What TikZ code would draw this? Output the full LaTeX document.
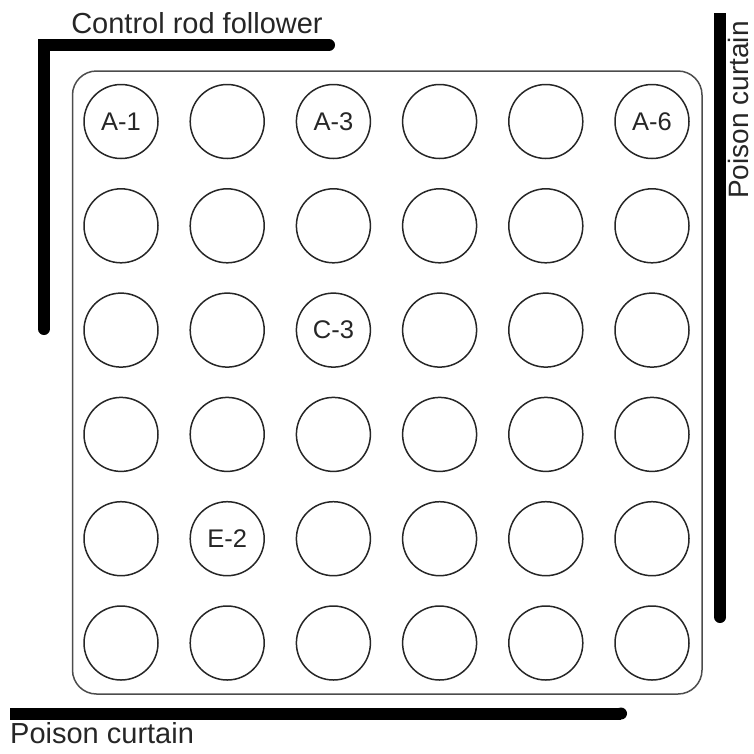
\documentclass[tikz,border=0pt]{standalone}
\usepackage{fontspec}
\setmainfont{Liberation Sans}
\begin{document}
\begin{tikzpicture}[x=1pt,y=-1pt,
  fuel/.style={draw=black!85,line width=1.5pt,circle,minimum size=74pt,inner sep=0pt},
  fuellbl/.style={font=\fontsize{25.5}{27}\selectfont,text=black!85,inner sep=0pt},
  bar/.style={line width=12pt,black},
  lbl/.style={font=\fontsize{29}{31}\selectfont,text=black!85,inner sep=0pt}]
\useasboundingbox (0,0) rectangle (754,753);
% core box
\draw[line width=1.5pt,draw=black!70,rounded corners=24pt] (72.5,71) rectangle (702,694);
% fuel positions
\foreach \r in {1,...,6}{
  \foreach \c in {1,...,6}{
    \node[fuel] (c\r\c) at ({121+106.2*(\c-1)},{121.5+104.3*(\r-1)}) {};
  }
}
\node[fuellbl] (l11) at (c11) {A-1};
\node[fuellbl] (l13) at (c13) {A-3};
\node[fuellbl] (l16) at (c16) {A-6};
\node[fuellbl] (l33) at (c33) {C-3};
\node[fuellbl] (l52) at (c52) {E-2};
% control rod follower
\coordinate (crA) at (329,45);
\coordinate (crB) at (44,45);
\coordinate (crC) at (44,329);
\draw[bar,line cap=round,line join=miter] (crA) -- (crB) -- (crC);
\node[lbl,anchor=base] (crl) at (197,33) {Control rod follower};
% right poison curtain
\coordinate (rpA) at (720,13);
\coordinate (rpB) at (720,617);
\draw[bar,line cap=butt] (rpA) -- (rpB);
\fill (rpB) circle (6pt);
\node[lbl,font=\fontsize{28}{30}\selectfont,rotate=90,anchor=base west] (rpl) at (748,199) {Poison curtain};
% bottom poison curtain
\coordinate (bpA) at (10,713.5);
\coordinate (bpB) at (621,713.5);
\draw[bar,line cap=butt] (bpA) -- (bpB);
\fill (bpB) circle (6pt);
\node[lbl,anchor=base west] (bpl) at (10,743) {Poison curtain};
\end{tikzpicture}
\end{document}
